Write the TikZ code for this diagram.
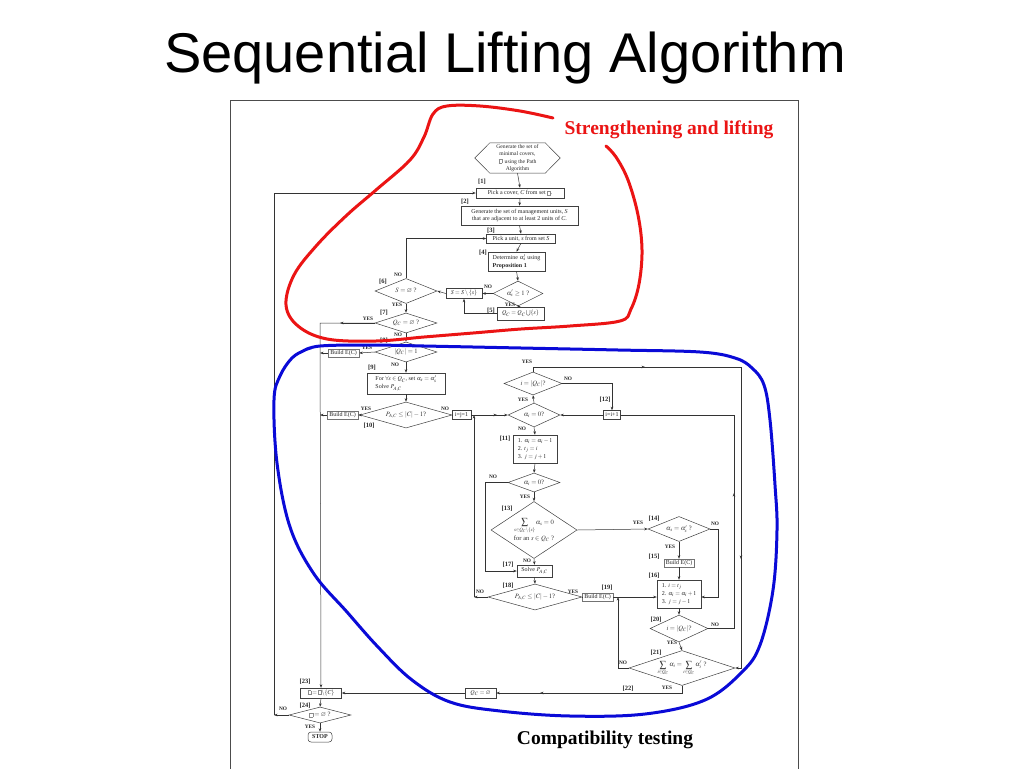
\documentclass[tikz,border=0pt]{standalone}
\usepackage{amssymb}
\usepackage{mathptmx}
\usepackage{fontspec}
\setmainfont{Liberation Serif}
\newfontfamily\titlefont{Liberation Sans}
\usetikzlibrary{arrows.meta,shapes.geometric,calc}
\newcommand\fs{\fontsize{6}{7.8}\selectfont}
\newcommand\fd{\fontsize{6.6}{8}\selectfont}
\newcommand\fb{\fontsize{6.5}{7}\selectfont\bfseries}
\newcommand\fy{\fontsize{5.3}{6}\selectfont\bfseries}
\newcommand\missbox{{\fboxsep=0pt\fboxrule=0.3pt\color{black!45}\fbox{\rule{0pt}{3.8pt}\hspace{2.8pt}}}}
\newcommand\mkdia[6]{\node[dia,minimum width=#4pt,minimum height=#5pt] (#1) at (#2,#3) {};
  \node[dtx] (#1t) at (#1.center) {#6};}
\begin{document}
\begin{tikzpicture}[x=1pt,y=-1pt,
  box/.style={draw=black!75,line width=0.5pt,fill=white,inner sep=1pt,font=\fs,text=black!85,align=center},
  gbox/.style={box,draw=black!55},
  dia/.style={diamond,draw=black!75,line width=0.5pt,inner sep=0pt},
  dtx/.style={font=\fd,text=black!80,align=center,inner sep=0pt},
  lab/.style={font=\fb,inner sep=0pt,text=black!85},
  yn/.style={font=\fy,inner sep=0pt,text=black!85},
  ln/.style={line width=0.5pt,draw=black!80},
  arr/.style={ln,-{Stealth[length=3.5pt,width=2.6pt]}},
  hand/.style={line width=3pt,line cap=round,line join=round},
]
\useasboundingbox (0,0) rectangle (1024,768);
\fill[white] (0,0) rectangle (1024,768);

% title and frame
\node[font=\titlefont\fontsize{56}{60}\selectfont,anchor=base] (title) at (505,72) {Sequential Lifting Algorithm};
\draw[black!70,line width=0.8pt] (230,770) -- (230,100) -- (798,100) -- (798,770);

% hexagon
\node[font=\fontsize{5.6}{7.4}\selectfont,text=black!85,align=center,minimum width=55pt,minimum height=30pt,inner sep=0pt] (hex) at (517.5,158)
  {Generate the set of\\minimal covers,\\\missbox\ \ using the Path\\Algorithm};
\draw[black!75,line width=0.5pt] (hex.north west) -- (hex.north east) -- ([xshift=15pt]hex.east) -- (hex.south east)
  -- (hex.south west) -- ([xshift=-15pt]hex.west) -- cycle;

% boxes
\node[box,minimum width=88pt,minimum height=10pt] (b1) at (520,193) {Pick a cover, \textit{C} from set \missbox.};
\node[box,minimum width=117pt,minimum height=19pt] (b2) at (519.5,215.5) {Generate the set of management units, \textit{S}\\that are adjacent to at least 2 units of \textit{C}.};
\node[box,minimum width=69pt,minimum height=9pt] (b3) at (521,238.5) {Pick a unit, \textit{s} from set \textit{S}};
\node[box,minimum width=57pt,minimum height=19pt,align=left] (b4) at (516.5,261.5) {Determine $\alpha_s'$ using\\\textbf{Proposition 1}};
\node[box,minimum width=36pt,minimum height=10pt] (bS) at (464,293.5) {$S=S\setminus\{s\}$};
\node[box,minimum width=47pt,minimum height=13pt] (b5) at (520.5,313.5) {$Q_C=Q_C\bigcup\{s\}$};
\node[gbox,minimum width=31pt,minimum height=8pt] (be8) at (343.5,353) {Build E(C)};
\node[box,minimum width=78pt,minimum height=21pt,align=left] (b9) at (406,383.5) {For $\forall s\in Q_C$, set $\alpha_s=\alpha_s'$\\Solve $P_{A,C}$};
\node[gbox,minimum width=31pt,minimum height=8pt] (be10) at (342.5,415) {Build E(C)};
\node[box,minimum width=19pt,minimum height=9pt] (bij) at (461.5,415) {i=j=1};
\node[box,minimum width=17pt,minimum height=9pt] (b12) at (612,415) {i=i+1};
\node[box,minimum width=44pt,minimum height=28pt,align=left] (b11) at (535,449) {1. $\alpha_i=\alpha_i-1$\\2. $t_j=i$\\3. $j=j+1$};
\node[gbox,minimum width=30pt,minimum height=8pt] (b15) at (679,563) {Build E(C)};
\node[box,minimum width=44pt,minimum height=28pt,align=left] (b16) at (679,594) {1. $i=t_j$\\2. $\alpha_i=\alpha_i+1$\\3. $j=j-1$};
\node[box,minimum width=35pt,minimum height=12pt] (b17) at (534.5,571) {Solve $P_{A,C}$};
\node[gbox,minimum width=31pt,minimum height=8pt] (b19) at (597.5,597) {Build E(C)};
\node[box,minimum width=31pt,minimum height=10pt] (bq) at (480.5,693) {$Q_C=\varnothing$};
\node[box,minimum width=41pt,minimum height=10pt] (b23) at (321,693) {\missbox${}={}$\missbox$\setminus\{C\}$};
\node[box,minimum width=24pt,minimum height=10pt,rounded corners=3pt,font=\fs\bfseries] (stop) at (320,737) {STOP};

% diamonds
\mkdia{d5}{518}{293.5}{50}{25}{$\alpha_s'\geq 1$ ?}
\mkdia{d6}{406}{291}{62}{25}{$S=\varnothing$ ?}
\mkdia{d7}{406}{323}{62}{20}{$Q_C=\varnothing$ ?}
\mkdia{d8}{406}{352}{62}{20}{$|Q_C|=1$}
\mkdia{d10}{406}{415}{92}{26}{$P_{A,C}\leq|C|-1$?}
\mkdia{dq}{533}{383.5}{58}{23}{$i=|Q_C|$?}
\mkdia{da}{534}{415}{52}{24}{$\alpha_i=0$?}
\mkdia{db}{534}{482.5}{52}{19}{$\alpha_i=0$?}
\mkdia{d13}{534}{530}{86}{57}{$\displaystyle\sum_{s\in Q_C\setminus\{s\}}\alpha_s=0$\\[1pt]for an $s\in Q_C$ ?}
\mkdia{d14}{679}{529}{62}{25}{$\alpha_s=\alpha_s'$ ?}
\mkdia{d18}{535}{597}{94}{26}{$P_{A,C}\leq|C|-1$?}
\mkdia{d20}{679}{628.5}{58}{27}{$i=|Q_C|$?}
\mkdia{d21}{682}{668}{106}{35}{$\displaystyle\sum_{i\in Q_C}\alpha_i=\sum_{i\in Q_C}\alpha_i'$ ?}
\mkdia{d24}{320}{715}{62}{16}{\missbox${}=\varnothing$ ?}

% coordinates
\coordinate (c7) at (320,323);
\coordinate (cL) at (274,715);
\coordinate (cJ) at (474,597);
\coordinate (cT) at (741,367);
\coordinate (cR) at (734,628.5);
\coordinate (cN) at (618,668);
\coordinate (cK) at (485,482.5);
\coordinate (cM) at (718,529);
\coordinate (cY) at (682,693);

% connectors
\draw[arr] (hex.south) -- (b1.north);
\draw[arr] (b1.south) -- (b2.north);
\draw[arr] (b2.south) -- (b3.north);
\draw[arr] (b3.south) -- (b4.north);
\draw[arr] (b4.south) -- (d5.north);
\draw[arr] (d5.west) -- (bS.east);
\draw[arr] (bS.west) -- (d6.east);
\draw[arr] (d5.south) -- (b5.north);
\draw[arr] (b5.west) -| (bS.south);
\draw[arr] (d6.north) |- (b3.west);
\draw[arr] (d6.south) -- (d7.north);
\draw[arr] (d7.west) -- (c7) -- (b23.north);
\draw[arr] (d7.west) -- (340,323);
\draw[arr] (d7.south) -- (d8.north);
\draw[arr] (d8.west) -- (be8.east);
\draw[arr] (be8.west) -- (be8.west -| c7);
\draw[arr] (d8.south) -- (b9.north);
\draw[arr] (b9.south) -- (d10.north);
\draw[arr] (d10.west) -- (be10.east);
\draw[arr] (be10.west) -- (be10.west -| c7);
\draw[ln] (d10.east) -- (bij.west);
\draw[arr] (bij.east) -- (da.west);
\draw[arr] (bij.east) -- (497,415);
\draw[arr] (d18.west) -- (cJ);
\draw[arr] (cJ) -- (cJ |- bij.east);
\draw[arr] (da.north) -- (dq.south);
\draw[arr] (dq.north) |- (cT) -- (cT |- d21.east) -- (d21.east);
\draw[arr] (cT) ++(-100,0) -- ++(4,0);
\draw[arr] (cT |- 0,555) -- ++(0,4);
\draw[arr] (dq.east) -| (b12.north);
\draw[arr] (b12.west) -- (da.east);
\draw[ln] (d20.east) -- (cR) |- (b12.east);
\draw[arr] (cR |- 0,497) -- ++(0,-4);
\draw[arr] (da.south) -- (b11.north);
\draw[arr] (b11.south) -- (db.north);
\draw[arr] (db.west) -- (cK) |- (b17.west);
\draw[arr] (db.south) -- (d13.north);
\draw[arr] (d13.east) -- (d14.west);
\draw[arr] (d13.south) -- (b17.north);
\draw[arr] (b17.south) -- (d18.north);
\draw[ln] (d18.east) -- (b19.west);
\draw[arr] (b19.east) -- (b19.east -| b16.west);
\draw[arr] (d14.east) -- (cM) -- (cM |- b19.east) -- (b19.east -| b16.east);
\draw[arr] (d14.south) -- (b15.north);
\draw[arr] (b15.south) -- (b16.north);
\draw[arr] (b16.south) -- (d20.north);
\draw[arr] (d20.south) -- (d21.north);
\draw[arr] (d21.west) -- (cN) -- (cN |- b19.east);
\draw[arr] (d21.south) -- (cY) -- (bq.east);
\draw[arr] (cY) -- (540,693);
\draw[arr] (bq.west) -- (b23.east);
\draw[arr] (b23.south) -- (d24.north);
\draw[arr] (d24.west) -- (cL);
\draw[arr] (cL) -- (cL |- b1.west) -- (b1.west);
\draw[arr] (d24.south) -- (stop.north);

% step labels
\node[lab] (l1) at (482,182) {[1]};
\node[lab] (l2) at (465,202) {[2]};
\node[lab] (l3) at (491,231) {[3]};
\node[lab] (l4) at (483,253) {[4]};
\node[lab] (l5) at (491,311) {[5]};
\node[lab] (l6) at (383,282) {[6]};
\node[lab] (l7) at (384,313) {[7]};
\node[lab] (l8) at (384,341) {[8]};
\node[lab] (l9) at (372,368) {[9]};
\node[lab] (l10) at (369,426) {[10]};
\node[lab] (l11) at (505,439) {[11]};
\node[lab] (l12) at (605,400) {[12]};
\node[lab] (l13) at (507,509) {[13]};
\node[lab] (l14) at (654,519) {[14]};
\node[lab] (l15) at (654,557) {[15]};
\node[lab] (l16) at (654,576) {[16]};
\node[lab] (l17) at (508,565) {[17]};
\node[lab] (l18) at (508,586) {[18]};
\node[lab] (l19) at (607,588) {[19]};
\node[lab] (l20) at (656,620) {[20]};
\node[lab] (l21) at (656,653) {[21]};
\node[lab] (l22) at (628,689) {[22]};
\node[lab] (l23) at (305,682) {[23]};
\node[lab] (l24) at (305,706) {[24]};

% YES / NO
\node[yn] (y5n) at (488,287) {NO};
\node[yn] (y5y) at (510,305) {YES};
\node[yn] (y6n) at (398,275) {NO};
\node[yn] (y6y) at (397,305) {YES};
\node[yn] (y7y) at (368,319) {YES};
\node[yn] (y7n) at (398,335) {NO};
\node[yn] (y8y) at (367,348) {YES};
\node[yn] (y8n) at (395,365) {NO};
\node[yn] (y10y) at (366,409) {YES};
\node[yn] (y10n) at (445,409) {NO};
\node[yn] (yqy) at (527,362) {YES};
\node[yn] (yqn) at (568,379) {NO};
\node[yn] (yay) at (523,400) {YES};
\node[yn] (yan) at (522,429) {NO};
\node[yn] (ybn) at (493,477) {NO};
\node[yn] (yby) at (525,497) {YES};
\node[yn] (y13y) at (638,523) {YES};
\node[yn] (y13n) at (527,561) {NO};
\node[yn] (y14n) at (715,524) {NO};
\node[yn] (y14y) at (670,547) {YES};
\node[yn] (y18n) at (480,592) {NO};
\node[yn] (y18y) at (573,592) {YES};
\node[yn] (y20n) at (715,625) {NO};
\node[yn] (y20y) at (672,643) {YES};
\node[yn] (y21n) at (623,663) {NO};
\node[yn] (y21y) at (667,688) {YES};
\node[yn] (y24n) at (283,709) {NO};
\node[yn] (y24y) at (310,727) {YES};

% hand-drawn loops
\draw[hand,color={rgb,255:red,235;green,20;blue,20}] plot[smooth,tension=0.6] coordinates {
 (553,118) (520,111) (480,106) (447,106) (433,114) (424,137) (410,160) (376,190) (347,215) (317,245)
 (294,275) (286,305) (298,326) (327,339) (376,341) (424,337) (473,333) (521,329) (570,326) (620,321)
 (631,309) (639,284) (642,250) (638,215) (628,180) (616,157) (606,146)};
\draw[hand,color={rgb,255:red,10;green,10;blue,215}] plot[smooth,tension=0.6] coordinates {
 (303,351) (320,346) (370,345) (424,346) (521,348) (618,350) (700,352) (735,358) (752,368) (764,385)
 (770,420) (775,485) (777,530) (773,590) (760,645) (742,672) (705,700) (645,714) (570,716) (500,711)
 (450,702) (412,680) (378,647) (347,612) (314,574) (290,527) (277,463) (274,400) (280,376) (292,358)
 (305,350) (311,348)};

% captions
\node[font=\fontsize{19.5}{21}\selectfont\bfseries,text={rgb,255:red,235;green,20;blue,20},anchor=base] (red) at (669,134) {Strengthening and lifting};
\node[font=\fontsize{19.5}{21}\selectfont\bfseries,anchor=base] (compat) at (605,744) {Compatibility testing};
\end{tikzpicture}
\end{document}
